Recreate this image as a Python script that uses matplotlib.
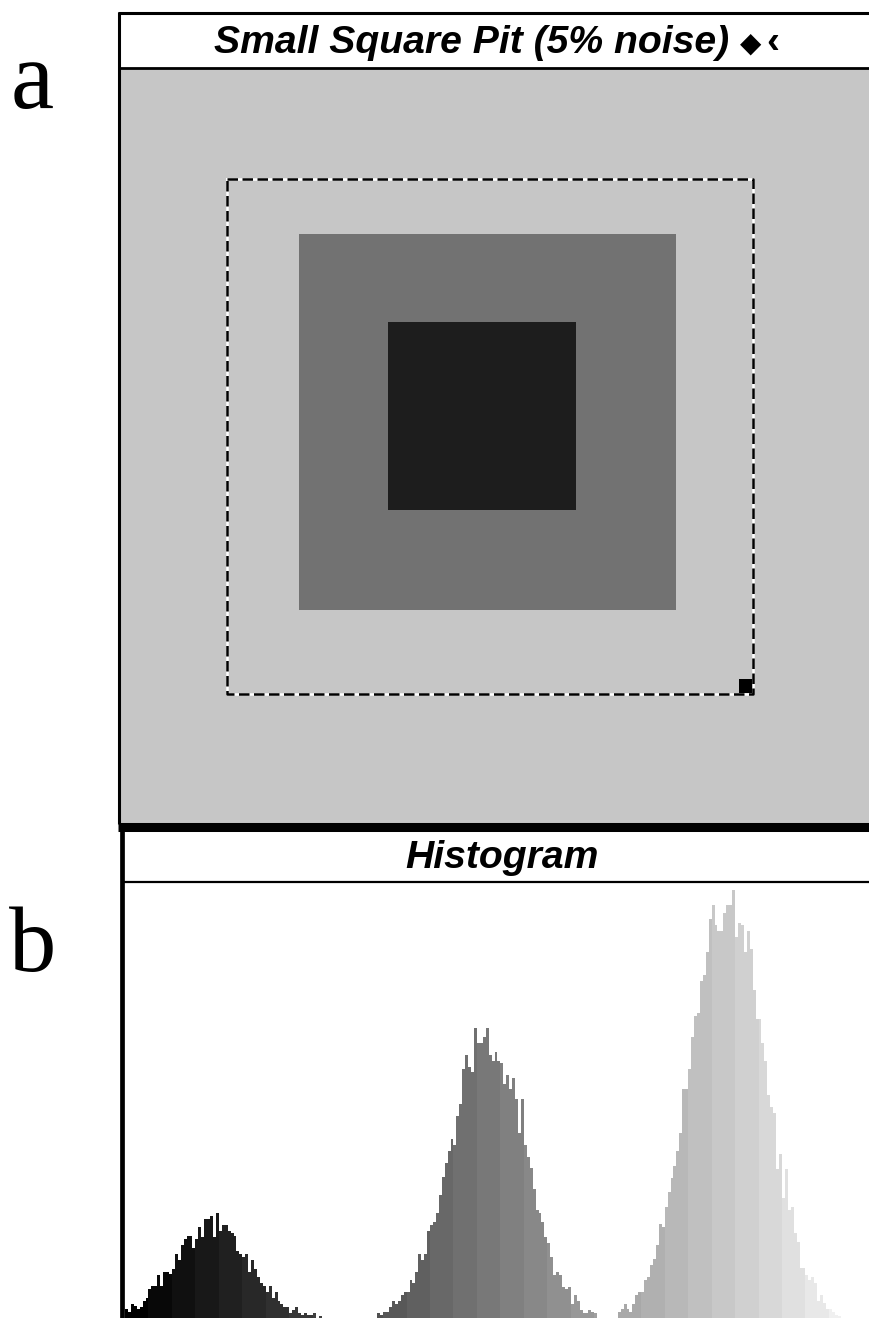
import numpy as np
import matplotlib
matplotlib.use('Agg')
import matplotlib.pyplot as plt
from matplotlib.patches import Rectangle

W, H = 870, 1318

# histogram counts, three peaks
dark_start = 0
dark_counts = [9, 6, 14, 12, 9, 11, 17, 20, 29, 32, 32, 43, 32, 46, 46, 44, 49, 64, 58, 73,
               79, 82, 82, 70, 79, 91, 81, 99, 99, 102, 81, 105, 87, 93, 93, 87, 85, 82, 67, 64,
               61, 64, 46, 58, 49, 41, 35, 32, 26, 32, 20, 26, 17, 14, 11, 11, 5, 8, 11, 5,
               3, 5, 3, 3, 5, 0, 2]
mid_start = 86
mid_counts = [5, 3, 6, 6, 11, 17, 14, 17, 23, 26, 26, 38, 35, 46, 64, 58, 64, 87, 93, 96,
              105, 123, 141, 155, 167, 179, 173, 202, 214, 249, 263, 251, 246, 290, 275, 275, 281, 290, 263, 257,
              266, 257, 255, 234, 243, 229, 240, 219, 185, 219, 173, 161, 150, 129, 108, 105, 96, 81, 75, 61,
              43, 46, 43, 31, 29, 31, 14, 23, 17, 8, 5, 5, 8, 6, 5]
light_start = 168
light_counts = [6, 9, 14, 9, 6, 14, 23, 26, 26, 38, 41, 53, 59, 73, 94, 91, 111, 126, 140, 152,
                167, 185, 229, 229, 249, 281, 302, 305, 337, 343, 366, 399, 413, 393, 387, 387, 405, 413, 413, 428,
                381, 395, 393, 366, 387, 369, 328, 299, 299, 275, 257, 223, 211, 205, 149, 164, 120, 149, 108, 111,
                85, 76, 50, 50, 43, 38, 41, 35, 17, 23, 15, 9, 9, 6, 3, 2]

# phantom regions in image pixels (256 x 256): x0, x1, y0, y1, grey
bg_grey = '#c6c6c6'
mid_box = [61, 189.7, 56, 184]
mid_grey = '#727272'
pit_box = [91.5, 155.7, 86, 150]
pit_grey = '#1d1d1d'
select_box = [36.5, 216, 37.5, 212.5]

title_a = 'Small Square Pit (5% noise)'
title_b = 'Histogram'
title_font = ['Liberation Sans Narrow', 'Liberation Sans', 'DejaVu Sans']


def axes_px(left, top, right, bottom):
    return fig.add_axes([left/W, 1-bottom/H, (right-left)/W, (bottom-top)/H])


fig = plt.figure(figsize=(W/100, H/100), dpi=100)
fig.patch.set_facecolor('white')

# panel a image
ax = axes_px(120, 69, 870, 824)
ax.set_xlim(0, 256)
ax.set_ylim(256.7, 0)
ax.add_patch(Rectangle((0, 0), 256, 256.7, fc=bg_grey, ec='none'))
ax.add_patch(Rectangle((mid_box[0], mid_box[2]), mid_box[1]-mid_box[0], mid_box[3]-mid_box[2],
                       fc=mid_grey, ec='none'))
ax.add_patch(Rectangle((pit_box[0], pit_box[2]), pit_box[1]-pit_box[0], pit_box[3]-pit_box[2],
                       fc=pit_grey, ec='none'))
sx0, sx1, sy0, sy1 = select_box
ax.plot([sx0, sx1, sx1, sx0, sx0], [sy0, sy0, sy1, sy1, sy0], color='white', lw=1.8)
ax.plot([sx0, sx1, sx1, sx0, sx0], [sy0, sy0, sy1, sy1, sy0], color='black', lw=1.8,
        dashes=(4.2, 1.8))
ax.add_patch(Rectangle((sx1-4.8, sy1-5), 4.8, 4.6, fc='black', ec='none'))
ax.axis('off')

# panel b histogram
ah = axes_px(125, 883, 870, 1318)
ah.set_xlim(0, 745/2.933)
ah.set_ylim(0, 435)
for start, counts in [(dark_start, dark_counts), (mid_start, mid_counts), (light_start, light_counts)]:
    bins = np.arange(start, start+len(counts))
    greys = [str((b//8*8)/255) for b in bins]
    ah.bar(bins, counts, width=1.0, align='edge', color=greys, linewidth=0)
ah.axis('off')

# window frames and labels, in picture pixels
fr = fig.add_axes([0, 0, 1, 1], zorder=5)
fr.set_xlim(0, W)
fr.set_ylim(H, 0)
fr.axis('off')
fr.plot([119, 119], [12, 824], color='black', lw=2.2, solid_capstyle='butt')
fr.plot([118, W], [13, 13], color='black', lw=2.2, solid_capstyle='butt')
fr.plot([120, W], [68, 68], color='black', lw=2, solid_capstyle='butt')
fr.plot([118, W], [826.5, 826.5], color='black', lw=6.5, solid_capstyle='butt')
fr.plot([122, 122], [826, H], color='black', lw=3.4, solid_capstyle='butt')
fr.plot([124, W], [882, 882], color='black', lw=1.6, solid_capstyle='butt')

fr.text(214, 53, title_a, family=title_font, style='italic', weight='bold', fontsize=28.2,
        ha='left', va='baseline')
fr.text(751, 44, '\u25c6', family='DejaVu Sans', fontsize=20, ha='center', va='center')
fr.text(773, 43, '\u2039', family='Liberation Sans', weight='bold', fontsize=28, ha='center', va='center')
fr.text(502, 868, title_b, family=title_font, style='italic', weight='bold', fontsize=28.2,
        ha='center', va='baseline')
fr.text(32, 108, 'a', family='Liberation Serif', fontsize=70, ha='center', va='baseline')
fr.text(33, 971, 'b', family='Liberation Serif', fontsize=68, ha='center', va='baseline')

fig.savefig('out.png', dpi=100)
